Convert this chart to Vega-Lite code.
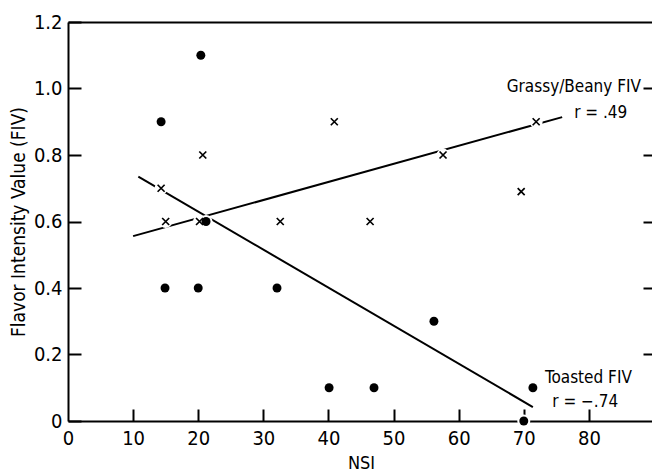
{
  "$schema": "https://vega.github.io/schema/vega-lite/v6.json",
  "width": 586,
  "height": 399,
  "autosize": "none",
  "padding": {"left": 68, "top": 22, "right": 0, "bottom": 53},
  "background": "white",
  "config": {
    "view": {"stroke": null},
    "font": "DejaVu Sans Condensed",
    "axis": {
      "grid": false,
      "domainColor": "black",
      "domainWidth": 2,
      "tickColor": "black",
      "tickWidth": 2,
      "labelColor": "black",
      "labelFont": "DejaVu Sans Condensed",
      "titleFont": "DejaVu Sans Condensed",
      "titleColor": "black",
      "titleFontWeight": "normal",
      "zindex": 1
    }
  },
  "datasets": {
    "points": [
      {"nsi": 14.3, "fiv": 0.9, "series": "Toasted"},
      {"nsi": 20.4, "fiv": 1.1, "series": "Toasted"},
      {"nsi": 14.9, "fiv": 0.4, "series": "Toasted"},
      {"nsi": 20.0, "fiv": 0.4, "series": "Toasted"},
      {"nsi": 21.2, "fiv": 0.6, "series": "Toasted"},
      {"nsi": 32.1, "fiv": 0.4, "series": "Toasted"},
      {"nsi": 40.1, "fiv": 0.1, "series": "Toasted"},
      {"nsi": 47.0, "fiv": 0.1, "series": "Toasted"},
      {"nsi": 56.2, "fiv": 0.3, "series": "Toasted"},
      {"nsi": 70.0, "fiv": 0.0, "series": "Toasted"},
      {"nsi": 71.4, "fiv": 0.1, "series": "Toasted"},
      {"nsi": 14.3, "fiv": 0.7, "series": "Grassy"},
      {"nsi": 15.0, "fiv": 0.6, "series": "Grassy"},
      {"nsi": 20.7, "fiv": 0.8, "series": "Grassy"},
      {"nsi": 20.2, "fiv": 0.6, "series": "Grassy"},
      {"nsi": 32.6, "fiv": 0.6, "series": "Grassy"},
      {"nsi": 40.9, "fiv": 0.9, "series": "Grassy"},
      {"nsi": 46.4, "fiv": 0.6, "series": "Grassy"},
      {"nsi": 57.6, "fiv": 0.8, "series": "Grassy"},
      {"nsi": 69.6, "fiv": 0.69, "series": "Grassy"},
      {"nsi": 71.9, "fiv": 0.9, "series": "Grassy"}
    ],
    "fits": [
      {"nsi": 10.8, "fiv": 0.735, "series": "Toasted"},
      {"nsi": 71.4, "fiv": 0.042, "series": "Toasted"},
      {"nsi": 10.0, "fiv": 0.556, "series": "Grassy"},
      {"nsi": 75.9, "fiv": 0.914, "series": "Grassy"}
    ],
    "notes": [
      {"nsi": 88.0, "fiv": 0.989, "text": "Grassy/Beany FIV"},
      {"nsi": 85.9, "fiv": 0.911, "text": "r = .49"},
      {"nsi": 86.6, "fiv": 0.114, "text": "Toasted FIV"},
      {"nsi": 84.5, "fiv": 0.042, "text": "r = \u2212.74"}
    ]
  },
  "resolve": {"axis": {"x": "independent", "y": "independent"}},
  "layer": [
    {
      "data": {"name": "fits"},
      "mark": {"type": "line", "color": "black", "strokeWidth": 2},
      "encoding": {
        "x": {
          "field": "nsi", "type": "quantitative",
          "scale": {"domain": [0, 90], "nice": false, "zero": false},
          "axis": {
            "orient": "bottom",
            "values": [0, 10, 20, 30, 40, 50, 60, 70, 80],
            "ticks": false,
            "labelPadding": 7,
            "labelFontSize": 20,
            "labelFlush": false,
            "labelOverlap": false,
            "title": "NSI",
            "titleFontSize": 18,
            "titlePadding": 6
          }
        },
        "y": {
          "field": "fiv", "type": "quantitative",
          "scale": {"domain": [0, 1.2], "nice": false, "zero": false},
          "axis": {
            "orient": "left",
            "values": [0, 0.2, 0.4, 0.6, 0.8, 1.0, 1.2],
            "labelExpr": "datum.value == 0 ? '0' : format(datum.value, '.1f')",
            "tickSize": -13,
            "labelPadding": 19,
            "labelFontSize": 20,
            "labelFlush": false,
            "labelOverlap": false,
            "title": "Flavor Intensity Value (FIV)",
            "titleFontSize": 19,
            "titlePadding": 5
          }
        },
        "detail": {"field": "series"}
      }
    },
    {
      "data": {"name": "points"},
      "mark": {"type": "point", "shape": "circle", "filled": true, "color": "white", "opacity": 1, "size": 170},
      "encoding": {
        "x": {
          "field": "nsi", "type": "quantitative",
          "axis": {"orient": "top", "ticks": false, "labels": false, "title": null, "domain": true}
        },
        "y": {
          "field": "fiv", "type": "quantitative",
          "axis": {
            "orient": "right",
            "values": [0.2, 0.4, 0.6, 0.8, 1.0],
            "offset": -11,
            "tickSize": 11,
            "labels": false,
            "domain": false,
            "title": null
          }
        }
      }
    },
    {
      "data": {"name": "points"},
      "transform": [{"filter": "datum.series == 'Toasted'"}],
      "mark": {"type": "point", "shape": "circle", "filled": true, "color": "black", "opacity": 1, "size": 80},
      "encoding": {
        "x": {
          "field": "nsi", "type": "quantitative",
          "axis": {
            "orient": "bottom",
            "values": [10, 20, 30, 40, 50, 60, 70, 80],
            "offset": -12,
            "tickSize": 12,
            "labels": false,
            "domain": false,
            "title": null
          }
        },
        "y": {"field": "fiv", "type": "quantitative", "axis": null}
      }
    },
    {
      "data": {"name": "points"},
      "transform": [{"filter": "datum.series == 'Grassy'"}],
      "mark": {"type": "point", "shape": "M-1,-1L1,1M-1,1L1,-1", "filled": false, "color": "black", "opacity": 1, "strokeWidth": 1.7, "size": 49},
      "encoding": {
        "x": {"field": "nsi", "type": "quantitative", "axis": null},
        "y": {"field": "fiv", "type": "quantitative", "axis": null}
      }
    },
    {
      "data": {"name": "notes"},
      "mark": {"type": "text", "align": "right", "baseline": "alphabetic", "fontSize": 17, "color": "black"},
      "encoding": {
        "x": {"field": "nsi", "type": "quantitative", "axis": null},
        "y": {"field": "fiv", "type": "quantitative", "axis": null},
        "text": {"field": "text"}
      }
    }
  ]
}
